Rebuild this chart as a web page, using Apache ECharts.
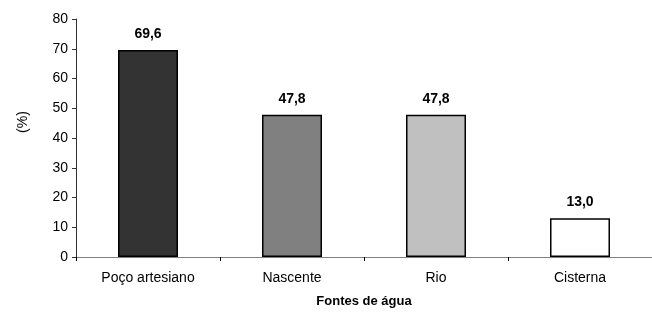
<!DOCTYPE html>
<html>
<head>
<meta charset="utf-8">
<script src="https://cdn.jsdelivr.net/npm/echarts@6/dist/echarts.min.js"></script>
<style>
  html, body { margin: 0; padding: 0; background: #fff; }
  #chart { width: 652px; height: 314px; }
</style>
</head>
<body>
<div id="chart"></div>
<script>
const categories = ['Poço artesiano', 'Nascente', 'Rio', 'Cisterna']
const values = [69.6, 47.8, 47.8, 13.0]
const barColors = ['#333333', '#808080', '#c0c0c0', '#ffffff']

const chart = echarts.init(document.getElementById('chart'))
const font = 'Liberation Sans, Arial, sans-serif'

const option = {
  backgroundColor: '#ffffff',
  animation: false,
  grid: {
    left: 76,
    top: 19,
    width: 584,
    height: 238
  },
  xAxis: {
    type: 'category',
    data: categories,
    name: 'Fontes de água',
    nameLocation: 'middle',
    nameGap: 38,
    nameTextStyle: {
      fontFamily: font,
      fontSize: 13,
      fontWeight: 'bold',
      color: '#000',
      padding: [0, 0, 0, 0]
    },
    axisLine: { lineStyle: { color: '#808080', width: 1 } },
    axisTick: { show: true, length: 4, lineStyle: { color: '#000' } },
    axisLabel: {
      fontFamily: font,
      fontSize: 14,
      color: '#000',
      margin: 14
    }
  },
  yAxis: {
    type: 'value',
    min: 0,
    max: 80,
    interval: 10,
    name: '(%)',
    nameLocation: 'middle',
    nameGap: 46,
    nameTextStyle: {
      fontFamily: font,
      fontSize: 14,
      color: '#000',
      padding: [0, 0, 0, 32]
    },
    splitLine: { show: false },
    axisLine: { show: true, lineStyle: { color: '#333', width: 1 } },
    axisTick: { show: true, inside: false, length: 4, lineStyle: { color: '#333' } },
    axisLabel: {
      fontFamily: font,
      fontSize: 14,
      color: '#000',
      margin: 8
    }
  },
  series: [{
    type: 'bar',
    barWidth: 60,
    data: values.map((v, i) => ({
      value: v,
      itemStyle: { color: barColors[i] }
    })),
    itemStyle: {
      borderColor: '#000',
      borderWidth: 1.5
    },
    label: {
      show: true,
      position: 'top',
      distance: 9,
      fontFamily: font,
      fontSize: 14,
      fontWeight: 'bold',
      color: '#000',
      formatter: p => p.value.toFixed(1).replace('.', ',')
    }
  }]
}

chart.setOption(option)
</script>
</body>
</html>
